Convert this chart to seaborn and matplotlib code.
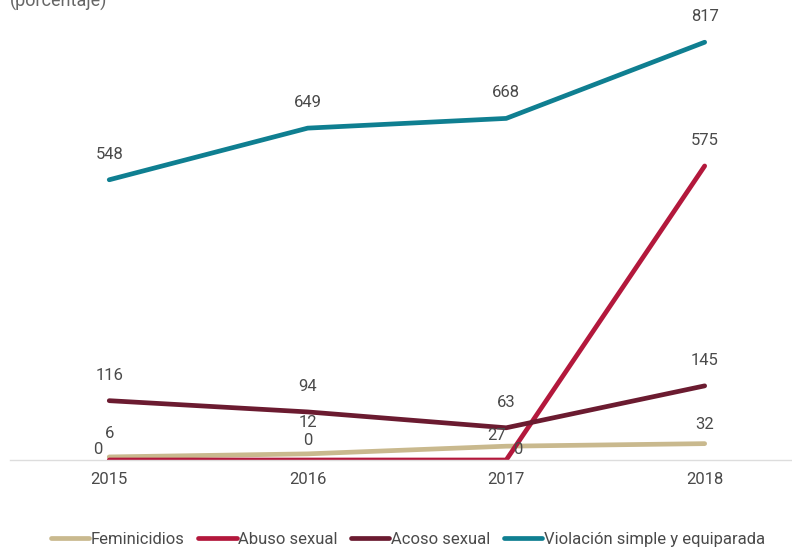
import matplotlib.pyplot as plt
import pandas as pd
import seaborn as sns

years = [2015, 2016, 2017, 2018]
feminicidios = [6, 12, 27, 32]
abuso_sexual = [0, 0, 0, 575]
acoso_sexual = [116, 94, 63, 145]
violacion = [548, 649, 668, 817]

series_names = ['Feminicidios', 'Abuso sexual', 'Acoso sexual',
                'Violación simple y equiparada']
colors = ['#c9b98e', '#b3183c', '#6b1b30', '#0f7f91']

# offsets (px) for the value labels, per series and year
label_offsets = {
    'Feminicidios': [(0, 16), (0, 24), (-10, 3), (0, 12)],
    'Abuso sexual': [(-11, 3), (0, 12), (12, 3), (0, 18)],
    'Acoso sexual': [(0, 18), (0, 18), (0, 18), (0, 18)],
    'Violación simple y equiparada': [(0, 18), (0, 18), (0, 18), (0, 18)],
}

df = pd.DataFrame({
    'year': years * 4,
    'value': feminicidios + abuso_sexual + acoso_sexual + violacion,
    'serie': [s for s in series_names for _ in years],
})

sns.set_style('white')
plt.rcParams['font.family'] = ['Liberation Sans Narrow', 'Roboto', 'DejaVu Sans']

fig = plt.figure(figsize=(7.92, 5.5), dpi=100)
ax = fig.add_axes([10 / 792, 90 / 550, 782 / 792, 450 / 550])

sns.lineplot(data=df, x='year', y='value', hue='serie', hue_order=series_names,
             palette=colors, linewidth=3.4, ax=ax, legend=False)

for name in series_names:
    sub = df[df['serie'] == name]
    for (x, y), off in zip(zip(sub['year'], sub['value']), label_offsets[name]):
        ax.annotate(str(y), (x, y), xytext=off, textcoords='offset pixels',
                    ha='center', va='bottom', fontsize=12, color='#4a4a4a')

ax.set_xlim(2014.5, 2018.44)
ax.set_ylim(0, 880)
ax.set_xticks(years)
ax.set_xticklabels([str(y) for y in years], fontsize=12, color='#4a4a4a')
ax.tick_params(axis='x', length=0, pad=9)
ax.set_yticks([])
ax.set_xlabel('')
ax.set_ylabel('')
for side in ['top', 'right', 'left']:
    ax.spines[side].set_visible(False)
ax.spines['bottom'].set_color('#dddddd')
ax.spines['bottom'].set_linewidth(1)

fig.text(10 / 792, 1 + 8 / 550, '(porcentaje)', fontsize=13, color='#666666',
         va='top')

handles = [plt.Line2D([], [], color=c, lw=3.4) for c in colors]
fig.legend(handles, series_names, loc='lower center', ncol=4,
           bbox_to_anchor=(0.515, -0.022), frameon=False, fontsize=12,
           handlelength=2.3, handletextpad=0.1, columnspacing=0.8,
           labelcolor='#4a4a4a')

fig.savefig('out.png', dpi=100)
